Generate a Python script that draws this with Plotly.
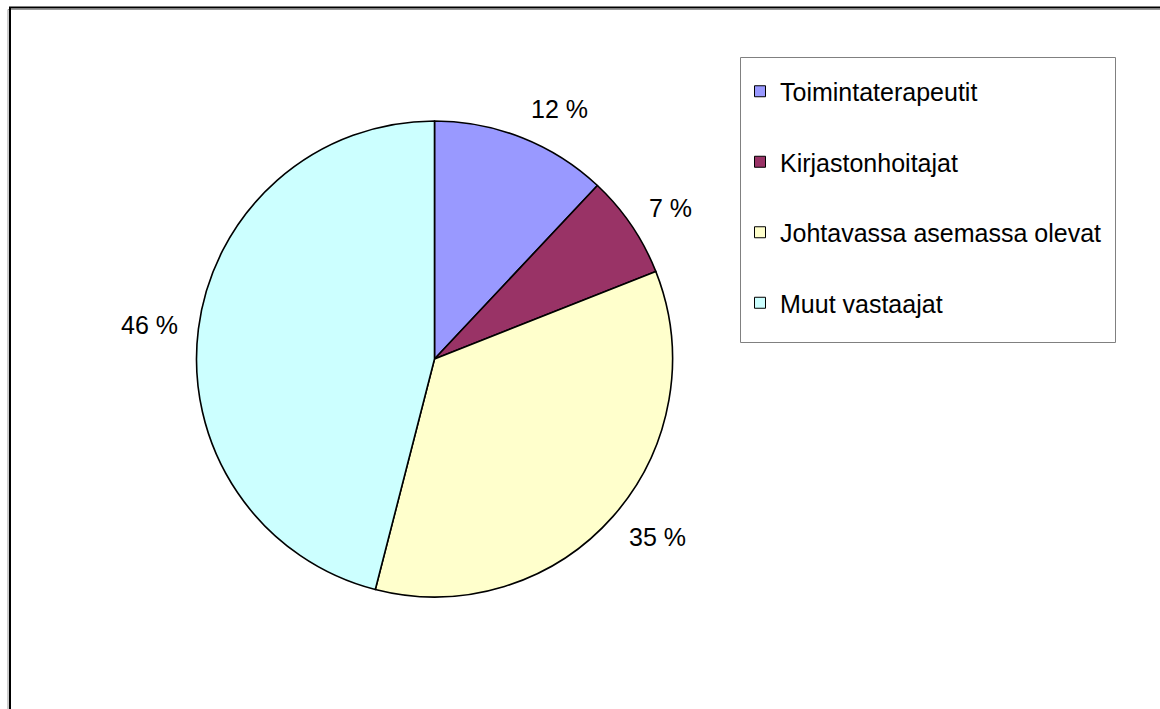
import math
import plotly.graph_objects as go

# Respondent groups and their shares (%)
categories = ["Toimintaterapeutit", "Kirjastonhoitajat",
              "Johtavassa asemassa olevat", "Muut vastaajat"]
shares = [12, 7, 35, 46]
colors = ["#9999FF", "#993366", "#FFFFCC", "#CCFFFF"]

W, H = 1160, 709
FONT = "Liberation Sans, Arial, sans-serif"

# Pie placement in pixels (centre and radius) converted to paper domain
cx, cy, r = 434.5, 359, 238
label_rx, label_ry = 257, 269  # label offsets from the centre

fig = go.Figure()

fig.add_trace(go.Pie(
    labels=categories,
    values=shares,
    sort=False,
    direction="clockwise",
    rotation=0,
    marker=dict(colors=colors, line=dict(color="black", width=1.6)),
    textinfo="none",
    showlegend=False,
    hoverinfo="label+value",
    domain=dict(x=[(cx - r) / W, (cx + r) / W],
                y=[(H - cy - r) / H, (H - cy + r) / H]),
))

# Percentage labels just outside each slice, at the slice's mid angle
annotations = []
total = sum(shares)
start = 0.0
for v in shares:
    mid = 2 * math.pi * (start + v / 2) / total
    start += v
    dx, dy = math.sin(mid), -math.cos(mid)
    px = cx + label_rx * dx
    py = cy + label_ry * dy
    annotations.append(dict(
        x=px / W, y=1 - py / H, xref="paper", yref="paper",
        text=f"{v} %", showarrow=False,
        xanchor="left" if dx > 0 else "right", yanchor="middle",
        font=dict(family=FONT, size=25, color="black"),
    ))

# Legend entries, one group per category so the rows can be spaced apart
for name, col in zip(categories, colors):
    fig.add_trace(go.Scatter(
        x=[None], y=[None], mode="markers", name=name, legendgroup=name,
        marker=dict(symbol="square", size=11, color=col,
                    line=dict(color="black", width=1)),
    ))

shapes = [
    # outer chart frame (shadow + border)
    dict(type="rect", xref="paper", yref="paper",
         x0=8 / W, x1=1.05, y0=-0.05, y1=1 - 9.5 / H,
         line=dict(color="#999999", width=1)),
    dict(type="rect", xref="paper", yref="paper",
         x0=10 / W, x1=1.05, y0=-0.05, y1=1 - 7.5 / H,
         line=dict(color="black", width=2)),
    # legend box
    dict(type="rect", xref="paper", yref="paper",
         x0=740.5 / W, x1=1115.5 / W, y0=1 - 342.5 / H, y1=1 - 57.5 / H,
         line=dict(color="#808080", width=1)),
]

fig.update_layout(
    width=W, height=H,
    margin=dict(l=0, r=0, t=0, b=0),
    paper_bgcolor="white",
    plot_bgcolor="white",
    xaxis=dict(visible=False),
    yaxis=dict(visible=False),
    shapes=shapes,
    annotations=annotations,
    legend=dict(
        x=740 / W, y=1 - 68.5 / H, xanchor="left", yanchor="top",
        font=dict(family=FONT, size=25, color="black"),
        bgcolor="rgba(0,0,0,0)", borderwidth=0,
        tracegroupgap=35,
    ),
    showlegend=True,
)

fig.write_html("out.html")
